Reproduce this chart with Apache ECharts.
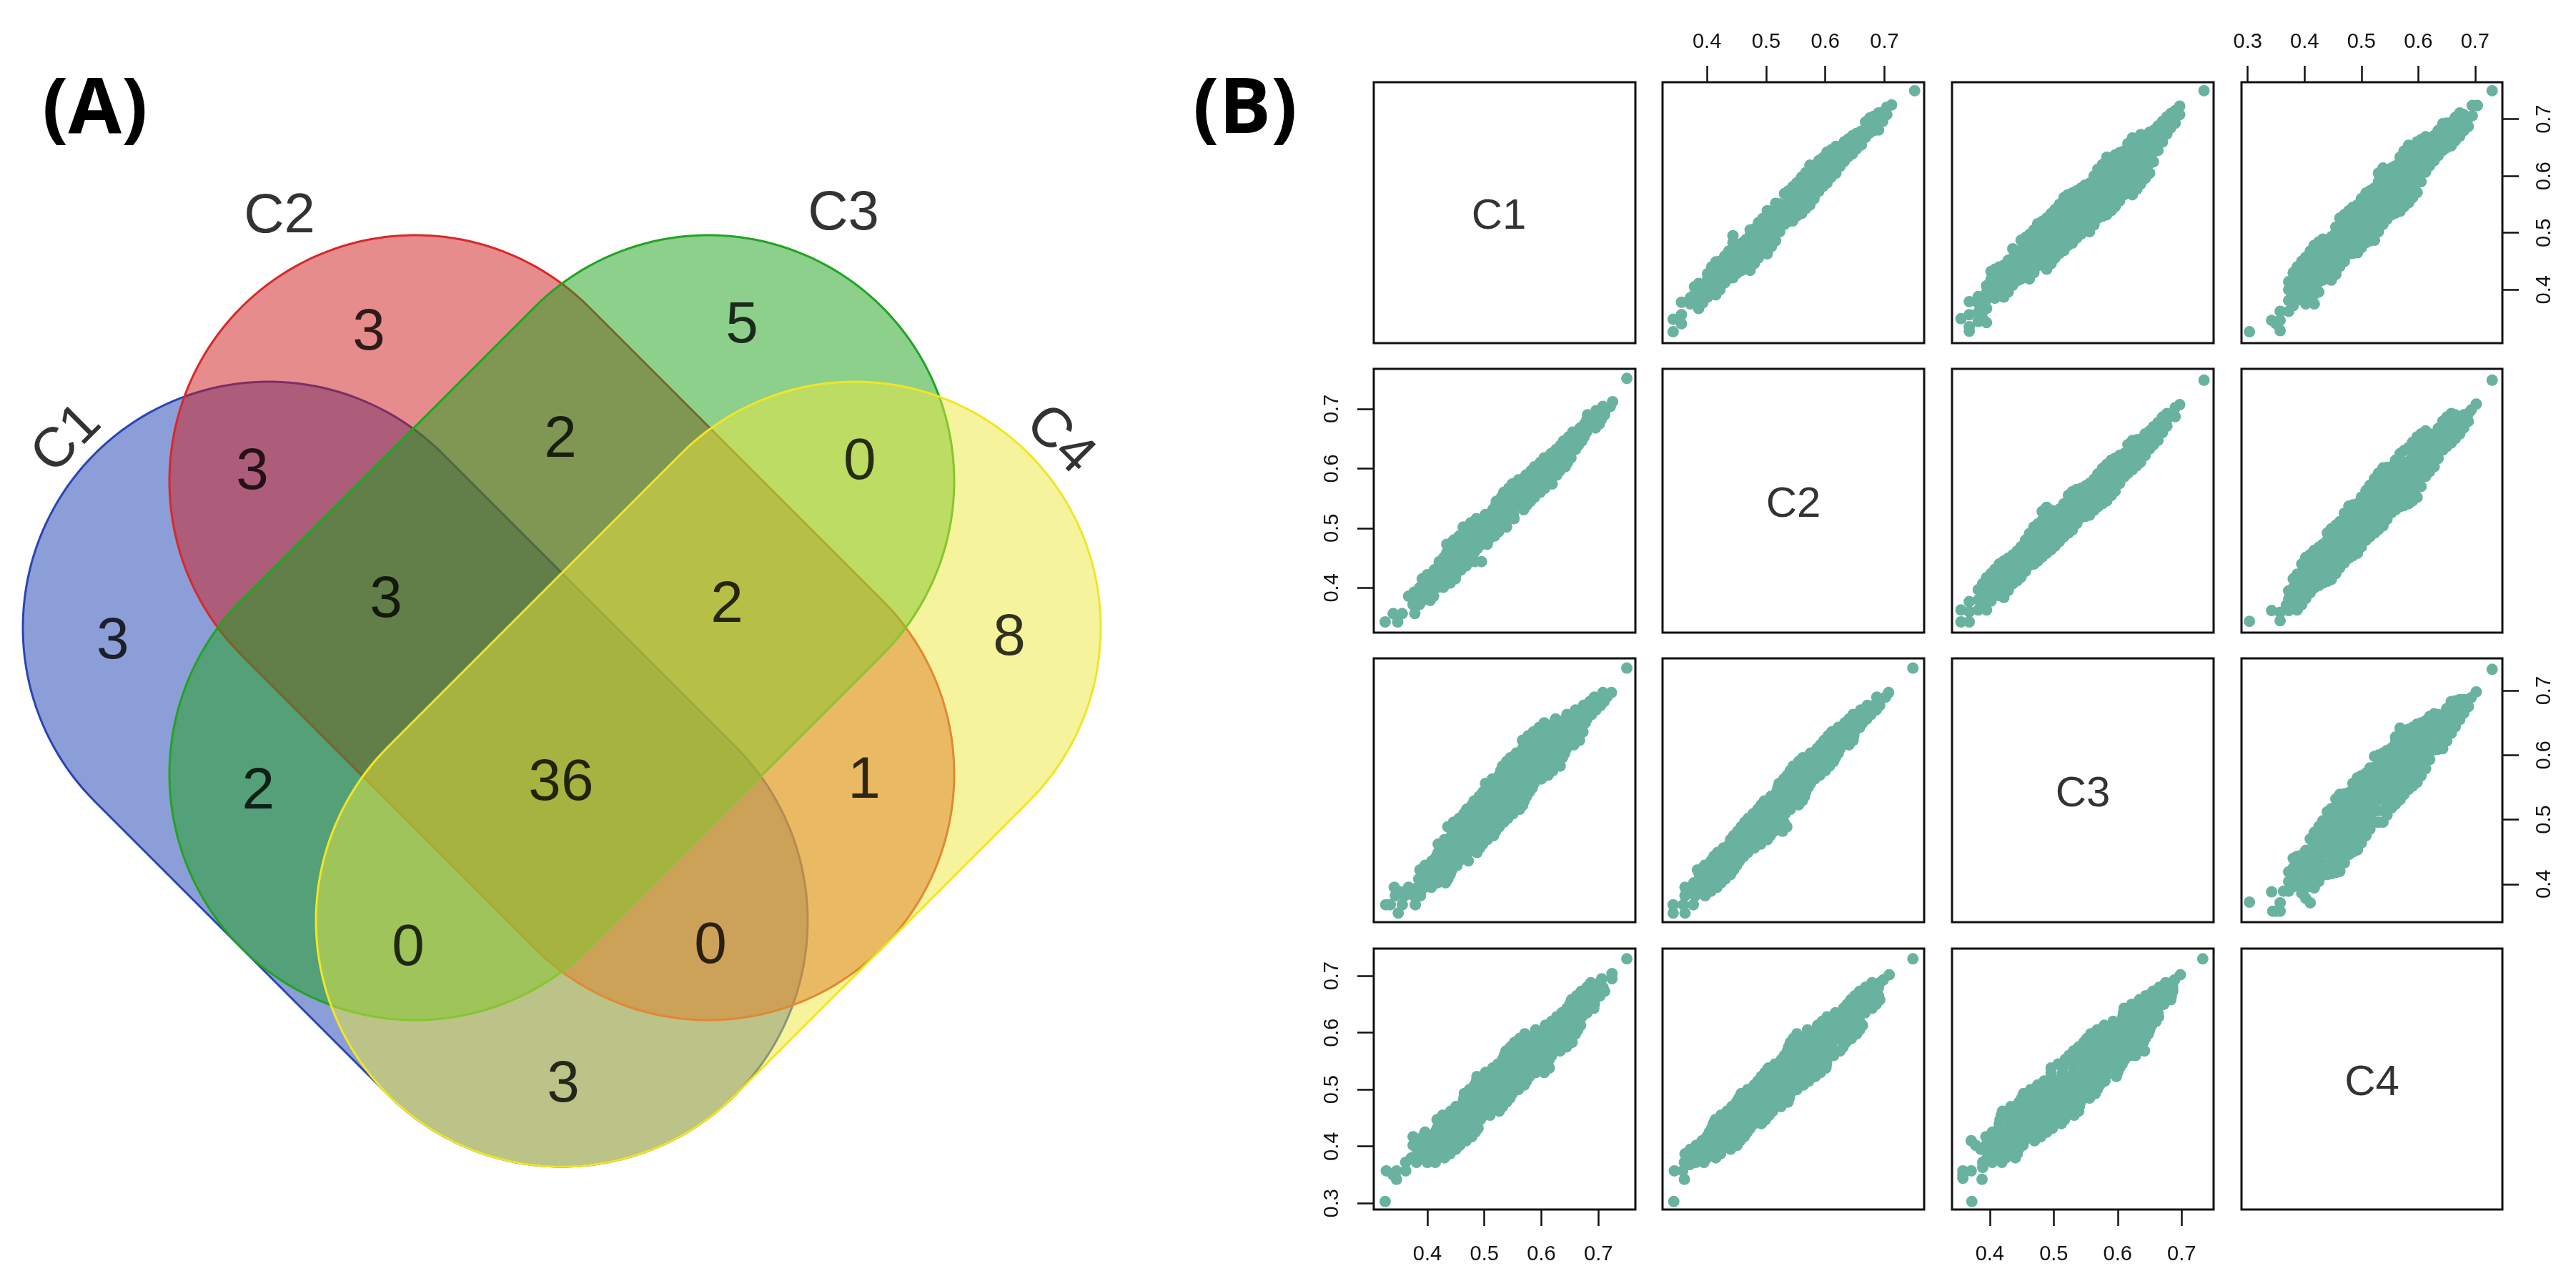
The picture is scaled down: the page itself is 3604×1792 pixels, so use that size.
<!DOCTYPE html>
<html><head><meta charset="utf-8">
<style>html,body{margin:0;padding:0;background:#fff}#c{width:3604px;height:1792px}</style>
<script src="https://cdn.jsdelivr.net/npm/echarts@6/dist/echarts.min.js"></script>
</head><body><div id="c"></div>
<script>
// ---------- DATA ----------
const setNames = ['C1','C2','C3','C4'];
// Venn region counts
const regionNames = ['C1','C2','C3','C4','C1C2','C2C3','C3C4','C1C2C3','C2C3C4','C1C3','C1C2C3C4','C2C4','C1C3C4','C1C2C4','C1C4'];
const regionCounts = [3,3,5,8,3,2,0,3,2,2,36,1,0,0,3];
// Pair scatter values, in thousandths: each row is [x, y, y, ...]
const pairC2C1 = [[343,326,348],[357,340,356,378],[372,375,386],[386,367,384,400,411],[401,387,403,418,428],[415,391,407,423,438,449],[430,412,428,444,459],[444,421,437,453,470,483,495],[459,434,450,466,482],[473,434,450,466,482,495,505],[487,456,472,488,504,518],[502,463,479,495,511,526,539],[516,486,502,518,535,552],[531,515,530,548,569],[545,521,537,553,568,581],[560,534,550,566,582,598],[574,549,565,581,600,619],[589,573,590,610,627],[603,588,606,624,642],[618,605,620,636,652],[632,626,643,660],[646,639,655,671],[661,655,668,679],[675,676,690,702],[690,681,696,711],[704,708,721],[712,725],[751,750],
[379,376,392,405],[393,377,395,409],[408,396,411,426,440],[422,400,418,434,450],[437,420,436,452,468],[451,429,445,461,476],[466,442,458,474,488],[480,446,461,477,493,507],[494,464,480,496,511,525],[509,476,491,507,523,538],[523,502,518,534,551],[538,520,530,545,562,574],[552,530,545,560,574,588],[567,543,558,574,590,606],[581,560,577,595,613],[596,582,600,618,632],[610,598,615,632,646],[625,617,632,650],[639,634,650,665],[653,648,663,675],[668,668,682,695],[682,680,695,705],[697,696,712]];
const pairC3C1 = [[355,349],[368,327,335,356,379],[382,344,360,376,388],[395,342,367,383,395,407],[408,385,402,419,436],[422,387,405,424,443],[436,408,424,440,456,472],[449,419,436,453,470,487],[462,419,436,453,470,487,497],[475,442,460,478,497,516],[489,436,455,473,491,509,526],[502,456,473,490,507,524,541],[516,469,487,505,523,543,562],[529,482,500,518,535,552,570],[543,498,515,531,548,564,579],[556,502,519,536,553,570,587],[569,526,543,560,578,595,612],[583,532,550,568,586,604,620,633],[596,546,564,582,600,618,637],[610,567,583,600,615,630,644],[623,567,585,603,621,639,653,667],[636,586,603,620,638,656,673],[650,605,622,640,658,677],[663,645,660,675,688],[677,674,690,704],[690,693,706,715],[697,708,723],[735,750],
[388,352,368,382],[402,392,404,418,432],[415,394,411,428,440],[429,396,415,433,452],[443,416,432,448,464],[456,428,444,462,478,492],[469,430,445,462,478,492,505],[482,451,469,487,506,520],[496,446,464,482,500,518,534],[509,464,481,498,515,532,550],[522,478,496,514,533,552,567],[536,491,509,526,543,558,574],[549,506,523,539,556,571,584],[563,514,531,548,565,582,600],[576,529,547,565,583,600,620],[590,539,557,575,593,611,630],[603,556,573,591,609,627,641],[616,570,589,607,623,640,657],[630,577,594,612,630,647,664],[643,596,613,630,648,666],[656,625,642,660,680],[670,660,680,696],[683,685,700,710]];
const pairC4C1 = [[303,326],[342,346],[350,340],[357,328,346,362],[372,362,381,400,414],[387,388,405,422,440],[402,375,392,409,425,441,457],[417,375,392,409,426,443,460,478],[432,417,435,453,471,489],[447,417,436,455,474,493],[462,441,458,475,492,509,526],[478,463,479,495,511,525,539],[493,465,482,499,516,533,549],[508,483,500,517,534,552,570],[523,487,505,523,541,560,579],[538,515,532,549,566,583,600,614],[553,532,549,566,583,600,614],[568,538,555,572,589,606,620,633],[583,553,570,587,604,621,638,654],[598,571,589,607,625,643,660],[613,607,622,637,653,669],[628,627,642,657,671],[643,645,660,676,692],[658,653,667,681,694],[673,670,684,698,711],[688,687,702],[695,706,724],[704,724],[730,750],
[380,372,392,412,430],[395,382,398,416,432,450],[410,384,400,417,434,451,468],[425,396,414,432,450,470,484],[440,426,445,463,482],[455,427,447,466,484,500,510],[470,450,468,485,502,518,532],[485,464,478,491,507,522,535,545],[500,474,492,510,527,545,560],[515,486,504,522,540,558,574],[530,502,519,536,553,571,590,605],[545,524,541,558,575,592,608],[560,535,552,569,586,603,618],[575,546,563,580,597,614,630,644],[590,562,580,597,615,632,648],[605,590,608,626,645,664],[620,618,632,647,663],[635,636,651,666,680],[650,650,665,680,693],[665,662,676,690,703],[680,680,694,708]];
const pairC3C2 = [[355,343,363],[368,343,360,377],[382,363,380,397],[395,363,380,398,417],[408,390,403,417,431],[422,384,399,414,430,445],[436,407,423,439,455],[449,418,435,452,469],[462,438,456,474,491],[475,445,460,476,492,507],[489,458,473,489,504,520,535],[502,470,487,505,523],[516,486,504,522,541],[529,497,513,529,545,561],[543,518,534,550,567],[556,522,540,558,575],[569,536,554,572,591],[583,546,562,578,593,607],[596,562,580,600,617],[610,586,602,618,625],[623,598,612,630,647],[636,611,624,636,649],[650,633,648,663],[663,647,662,677],[677,671,682,692],[690,687,702],[697,707],[735,748],
[389,372,390,407],[402,378,394,410,424],[415,387,401,416,431,440],[429,396,411,426,442,450],[443,412,429,447,462],[456,428,445,462,480],[469,440,457,475,492,502],[482,452,467,483,498,513,528],[496,464,480,497,514,530],[509,478,495,513,532],[523,492,508,524,542,555],[536,508,523,539,555,565],[550,520,537,554,571],[563,530,547,565,582],[576,541,558,575,592,600],[590,555,572,590,608,614],[603,575,591,609,622],[616,592,608,625,640],[630,605,620,636,648],[643,622,636,650,658],[656,640,655,670],[670,660,675,686]];
const pairC4C2 = [[303,344],[342,362],[357,345,359],[368,371],[372,362,381,395],[387,363,378,393,408,423],[402,382,399,416,433,451],[417,400,416,431,447,463],[432,408,424,440,456,473],[447,414,431,448,465,482,499],[462,434,451,468,485,499,511],[478,450,467,485,503,520,537],[493,458,475,492,509,525,541],[508,480,496,512,530,547,563],[523,492,510,528,546,565,583],[538,504,522,540,560,580,601],[553,526,542,558,574,590,603],[568,536,553,571,589,607,625],[583,541,558,576,594,612,635],[598,552,570,590,612,632,653],[613,587,602,617,632,648,663],[628,603,620,638,655],[643,631,647,663,679],[658,643,660,677,692],[673,658,671,684],[688,679,692],[693,698],[702,708],[730,748],
[380,372,385,400,415],[395,372,390,408,425,440],[410,392,408,424,440,456],[425,404,420,436,452,468],[440,411,428,445,462,480,492],[455,424,441,458,476,492,505],[470,442,459,476,494,510,525],[485,454,471,488,506,523,539],[500,469,486,503,520,537,552],[515,486,503,520,538,556,572],[530,498,516,534,553,572,592],[545,515,532,550,567,585,602],[560,531,548,566,582,598,614],[575,538,556,574,592,610,630],[590,546,564,583,603,623,644],[605,570,586,604,622,640,658],[620,595,611,627,643,658],[635,617,633,650,667],[650,637,653,670,686],[665,650,665,680,690],[680,668,680,690]];
const pairC4C3 = [[303,372],[342,388],[344,358],[350,358],[357,358,371],[363,389],[372,389,404,419],[387,398,413,428,443],[402,378,394,409,424,438,452],[410,371],[417,394,411,429,446,463,480],[432,414,431,448,465,481,498],[447,416,433,450,467,484,500,517],[462,420,437,454,471,488,505,522,539],[478,446,462,478,494,510,526,542],[493,453,469,485,501,517,533,549,565],[508,475,491,507,523,539,556,572],[523,496,513,530,547,564,581,598],[538,496,514,532,550,568,586,603],[553,518,534,550,566,582,597,611],[568,531,547,563,579,595,611,627,642],[583,547,563,579,595,610,625,640],[598,558,573,588,603,618,633,648],[613,579,594,609,624,639,653],[628,608,622,636,650,664],[643,610,627,645,662],[658,634,650,667,683],[673,655,670,686],[688,675,686],[693,689],[702,698],[730,733],
[380,396,411,425,440],[395,386,402,417,431,445],[410,402,420,437,454,470],[425,404,421,438,455,472,489],[440,415,432,449,466,483,500,512],[455,418,435,452,469,486,503,520,532],[470,433,450,466,482,498,514,530,540],[485,450,466,482,498,514,530,546,556],[500,464,480,496,512,528,544,560,568],[515,485,501,517,533,549,565,580],[530,496,514,531,548,565,582,600],[545,507,524,541,558,575,592,607],[560,524,540,556,572,588,604,620,628],[575,539,555,571,587,603,619,634],[590,552,568,583,598,613,628,643],[605,568,584,599,614,629,644,650],[620,593,608,622,636,650,660],[635,609,625,641,657,663],[650,622,638,655,672],[665,644,660,675,684],[680,665,678,686]];
const tickValuesByVar = [[0.4,0.5,0.6,0.7],[0.4,0.5,0.6,0.7],[0.4,0.5,0.6,0.7],[0.3,0.4,0.5,0.6,0.7]];

// ---------- LAYOUT / STYLE ----------
const axisRange = [[0.306,0.765],[0.325,0.767],[0.341,0.75],[0.289,0.748]];
const colEdges = [[1922,2288],[2326,2692],[2731,3097],[3136,3501]];
const rowEdges = [[115,480],[516,885],[921,1290],[1327,1692]];
const dotColor = '#69b2a0';
const vennFill = ['rgba(25,61,177,0.5)','rgba(205,25,25,0.5)','rgba(25,161,25,0.5)','rgba(235,231,57,0.5)'];
const vennStroke = ['#2a44b5','#d92828','#22a322','#f0e626'];
// Venn shapes (set shape scheme, unit = end-cap radius): x1,y1,x2,y2
const vennShapes = [[-1.192,0,0,-1.192],[-0.596,0.596,0.596,-0.596],[0.596,0.596,-0.596,-0.596],[1.192,0,0,-1.192]];
const regionAnchors = [[-1.826,-0.038],[-0.785,1.218],[0.733,1.247],[1.82,-0.023],[-1.259,0.651],[-0.006,0.782],[1.212,0.692],[-0.715,0.131],[0.672,0.11],[-1.235,-0.648],[-0.003,-0.616],[1.23,-0.605],[-0.625,-1.285],[0.605,-1.276],[0.006,-1.84]];
const setAnchors = [[-2.026,0.767,45],[-1.157,1.683,0],[1.137,1.692,0],[2.026,0.776,-45]];
const sansFont = '"Liberation Sans",Arial,sans-serif';

const grid=[], xAxis=[], yAxis=[], series=[];
// Venn grid
grid.push({left:32,top:200,width:1508,height:1432,show:false});
xAxis.push({type:'value',gridIndex:0,min:-2.192,max:2.192,show:false});
yAxis.push({type:'value',gridIndex:0,min:-2.192,max:1.971,show:false});
series.push({type:'custom',xAxisIndex:0,yAxisIndex:0,silent:true,clip:false,z:2,
  data:vennShapes.map((s,i)=>[...s,i]),
  renderItem(params,api){
    const a=api.coord([api.value(0),api.value(1)]), b=api.coord([api.value(2),api.value(3)]);
    const r=api.size([1,0])[0], k=api.value(4);
    const base=Math.atan2(b[1]-a[1],b[0]-a[0]), pts=[];
    for(let t=0;t<=90;t++){const an=base+Math.PI/2+t/90*Math.PI;pts.push([a[0]+r*Math.cos(an),a[1]+r*Math.sin(an)]);}
    for(let t=0;t<=90;t++){const an=base-Math.PI/2+t/90*Math.PI;pts.push([b[0]+r*Math.cos(an),b[1]+r*Math.sin(an)]);}
    return {type:'polygon',shape:{points:pts},style:{fill:vennFill[k],stroke:vennStroke[k],lineWidth:3}};
  }});
series.push({type:'scatter',xAxisIndex:0,yAxisIndex:0,symbolSize:0,silent:true,z:5,clip:false,
  data:regionAnchors.map((p,i)=>({name:regionNames[i],value:[p[0],p[1]],
    label:{show:true,position:'inside',offset:[0,7],formatter:String(regionCounts[i]),fontSize:82,fontFamily:sansFont,color:'#000'}}))});
series.push({type:'scatter',xAxisIndex:0,yAxisIndex:0,symbolSize:0,silent:true,z:5,clip:false,
  data:setAnchors.map((p,i)=>({value:[p[0],p[1]],
    label:{show:true,position:'inside',offset:[3,4],formatter:setNames[i],rotate:p[2],fontSize:78,fontFamily:sansFont,color:'#000'}}))});

const pairLookup = {'0,1':pairC2C1,'0,2':pairC3C1,'0,3':pairC4C1,'1,2':pairC3C2,'1,3':pairC4C2,'2,3':pairC4C3};
const tickStyle={show:true,length:23,lineStyle:{color:'#111',width:2.5}};
const labelStyle={show:true,fontSize:29,fontFamily:sansFont,color:'#111',formatter:v=>v.toFixed(1)};
let g=1;
for(let r=0;r<4;r++)for(let c=0;c<4;c++){
  grid.push({left:colEdges[c][0],top:rowEdges[r][0],width:colEdges[c][1]-colEdges[c][0],height:rowEdges[r][1]-rowEdges[r][0],
    show:true,borderColor:'#111',borderWidth:3,backgroundColor:'transparent'});
  let xShow=false,xPos='bottom',yShow=false,yPos='left';
  if(r===0&&c%2===1){xShow=true;xPos='top';}
  if(r===3&&c%2===0){xShow=true;xPos='bottom';}
  if(c===0&&r%2===1){yShow=true;yPos='left';}
  if(c===3&&r%2===0){yShow=true;yPos='right';}
  xAxis.push({type:'value',gridIndex:g,min:axisRange[c][0],max:axisRange[c][1],position:xPos,
    axisLine:{show:false},splitLine:{show:false},
    axisTick:xShow?{...tickStyle,customValues:tickValuesByVar[c]}:{show:false},
    axisLabel:xShow?{...labelStyle,margin:xPos==='top'?42:48,customValues:tickValuesByVar[c]}:{show:false}});
  yAxis.push({type:'value',gridIndex:g,min:axisRange[r][0],max:axisRange[r][1],position:yPos,
    axisLine:{show:false},splitLine:{show:false},
    axisTick:yShow?{...tickStyle,customValues:tickValuesByVar[r]}:{show:false},
    axisLabel:yShow?{...labelStyle,rotate:90,margin:44,customValues:tickValuesByVar[r]}:{show:false}});
  if(r===c){
    series.push({type:'scatter',xAxisIndex:g,yAxisIndex:g,symbolSize:0,silent:true,
      data:[{value:[(axisRange[c][0]+axisRange[c][1])/2,(axisRange[r][0]+axisRange[r][1])/2],
        label:{show:true,position:'inside',offset:[r===0?-8:0,6],formatter:setNames[r],fontSize:60,fontFamily:sansFont,color:'#000'}}]});
  } else {
    const key=r<c?r+','+c:c+','+r, rows=pairLookup[key], pts=[];
    rows.forEach(row=>{for(let k=1;k<row.length;k++){
      // stored as [x(higher set), y(lower set)] for the upper-right panels; swapped below the diagonal
      pts.push(r<c?[row[0]/1000,row[k]/1000]:[row[k]/1000,row[0]/1000]);
    }});
    series.push({type:'scatter',xAxisIndex:g,yAxisIndex:g,symbol:'circle',symbolSize:16,silent:true,large:false,
      itemStyle:{color:dotColor,opacity:1},data:pts});
  }
  g++;
}
const chart=echarts.init(document.getElementById('c'),null,{renderer:'canvas'});
chart.setOption({animation:false,backgroundColor:'#fff',
  title:[
    {text:'(A)',left:54,top:96,textStyle:{fontFamily:'"Open Sans",sans-serif',fontWeight:'bold',fontSize:108,color:'#000'}},
    {text:'(B)',left:1664,top:96,textStyle:{fontFamily:'"Open Sans",sans-serif',fontWeight:'bold',fontSize:108,color:'#000'}}
  ],
  tooltip:{show:false},grid,xAxis,yAxis,series});
</script></body></html>
